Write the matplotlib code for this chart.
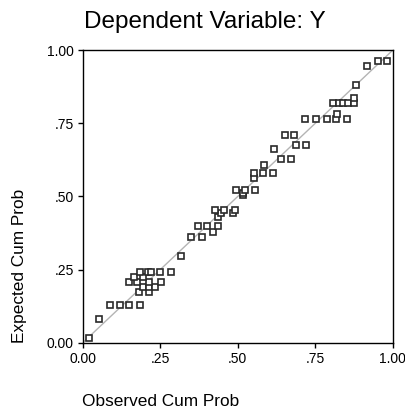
import numpy as np
import matplotlib
matplotlib.use('Agg')
import matplotlib.pyplot as plt

# Observed / expected cumulative probabilities
obs = [0.021, 0.054,
       0.087, 0.120, 0.150, 0.185,
       0.182, 0.215,
       0.195, 0.215, 0.232,
       0.150, 0.175, 0.215, 0.252,
       0.165, 0.193,
       0.185, 0.210, 0.220, 0.250, 0.285,
       0.317,
       0.349, 0.383,
       0.419,
       0.373, 0.402, 0.437,
       0.437,
       0.447, 0.484,
       0.427, 0.456, 0.490,
       0.516, 0.516,
       0.494, 0.523, 0.557,
       0.553, 0.553,
       0.582, 0.614,
       0.584,
       0.638, 0.672,
       0.618,
       0.687, 0.721,
       0.652, 0.681,
       0.716, 0.752, 0.787, 0.816, 0.851,
       0.821,
       0.806, 0.827, 0.840, 0.856, 0.874,
       0.874,
       0.881,
       0.915,
       0.951, 0.982]
exp = [0.015, 0.080,
       0.129, 0.129, 0.129, 0.129,
       0.172, 0.172,
       0.190, 0.190, 0.190,
       0.207, 0.207, 0.207, 0.207,
       0.224, 0.224,
       0.241, 0.241, 0.241, 0.241, 0.241,
       0.297,
       0.360, 0.360,
       0.377,
       0.400, 0.400, 0.400,
       0.430,
       0.442, 0.442,
       0.453, 0.453, 0.453,
       0.505, 0.510,
       0.521, 0.521, 0.521,
       0.562, 0.579,
       0.579, 0.579,
       0.609,
       0.628, 0.628,
       0.663,
       0.677, 0.677,
       0.711, 0.711,
       0.763, 0.763, 0.763, 0.763, 0.763,
       0.781,
       0.818, 0.818, 0.818, 0.818, 0.818,
       0.835,
       0.880,
       0.945,
       0.962, 0.962]

ticks = [0.0, 0.25, 0.5, 0.75, 1.0]
tick_labels = ['0.00', '.25', '.50', '.75', '1.00']

plt.rcParams['font.family'] = ['Liberation Sans', 'DejaVu Sans']

fig = plt.figure(figsize=(4.06, 4.12), dpi=100)
ax = fig.add_axes([0.2037, 0.168, 0.764, 0.7105])

# diagonal reference line
ax.plot([0, 1], [0, 1], color='#b4b4b4', lw=1.0, zorder=1)
ax.plot(obs, exp, linestyle='none', marker='s', markersize=4.6,
        markerfacecolor='white', markeredgecolor='#2a2a2a',
        markeredgewidth=1.2, clip_on=False, zorder=3)

ax.set_xlim(0, 1)
ax.set_ylim(0, 1)
ax.set_xticks(ticks)
ax.set_xticklabels(tick_labels)
ax.set_yticks(ticks)
ax.set_yticklabels(tick_labels)
ax.tick_params(direction='out', length=3.5, width=1, labelsize=10,
               colors='black', pad=3)
for s in ax.spines.values():
    s.set_linewidth(1.0)

fig.text(205 / 406, 1 - 22 / 412, 'Dependent Variable: Y', ha='center',
         va='center', fontsize=17.5)
fig.text(82 / 406, 1 - 401 / 412, 'Observed Cum Prob', ha='left',
         va='center', fontsize=12.4)
fig.text(20 / 406, 1 - 343 / 412, 'Expected Cum Prob', ha='left',
         va='center', rotation=90, rotation_mode='anchor', fontsize=12.4)

fig.savefig('out.png', dpi=100)
